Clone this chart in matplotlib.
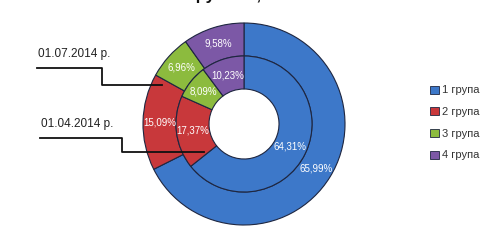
import numpy as np
import matplotlib.pyplot as plt
from matplotlib.patches import Patch

plt.rcParams['font.family'] = ['Liberation Sans', 'DejaVu Sans']

groups = ['1 група', '2 група', '3 група', '4 група']
colors = ['#3D78C9', '#C8383B', '#8CBB3E', '#7C58A6']
edge = '#1E2640'

# outer ring: 01.07.2014, inner ring: 01.04.2014
jul_vals = [65.99, 15.09, 6.96, 9.58]
jul_labels = ['65,99%', '15,09%', '6,96%', '9,58%']
apr_vals = [64.31, 17.37, 8.09, 10.23]
apr_labels = ['64,31%', '17,37%', '8,09%', '10,23%']
dates = ['01.07.2014 р.', '01.04.2014 р.']

fig = plt.figure(figsize=(4.87, 2.48), dpi=100)
ax = fig.add_axes([0, 0, 1, 1])
ax.axis('off')

cx, cy = 244, 124
R_out, R_mid, R_in = 101, 68, 35

def ring(vals, labels, r, w):
    wedges, _ = ax.pie(vals, radius=r, center=(cx, cy), startangle=90,
                       counterclock=False, colors=colors,
                       wedgeprops=dict(width=w, edgecolor=edge, linewidth=0.8))
    for wd, lab in zip(wedges, labels):
        ang = np.deg2rad((wd.theta1 + wd.theta2) / 2)
        rr = r - w / 2
        ax.text(cx + rr * np.cos(ang), cy + rr * np.sin(ang), lab,
                color='white', fontsize=7, ha='center', va='center')

ring(jul_vals, jul_labels, R_out, R_out - R_mid)
ring(apr_vals, apr_labels, R_mid, R_mid - R_in)
ax.set_xlim(0, 487)
ax.set_ylim(0, 248)
ax.set_aspect('equal')

# date callouts
ax.plot([37, 102, 102, 162], [180, 180, 163, 163], color='#111111', lw=1.3)
ax.text(38, 188, dates[0], fontsize=8.5, color='#222222', va='bottom')
ax.plot([40, 122, 122, 204], [110, 110, 96, 96], color='#111111', lw=1.3)
ax.text(41, 118, dates[1], fontsize=8.5, color='#222222', va='bottom')

# title, mostly cut off at the top edge like in the source image
fig.text(0.46, 1.0, 'за групами, %', fontsize=12, fontweight='bold',
         ha='center', va='baseline', color='#111111')

handles = [Patch(facecolor=c, edgecolor=edge, linewidth=0.6) for c in colors]
fig.legend(handles, groups, loc='upper left', bbox_to_anchor=(426 / 487, 1 - 81 / 248),
           frameon=False, fontsize=8, handlelength=0.75, handleheight=0.75,
           handletextpad=0.3, labelspacing=1.05, borderaxespad=0, labelcolor='#333333')

fig.savefig('out.png', dpi=100)
